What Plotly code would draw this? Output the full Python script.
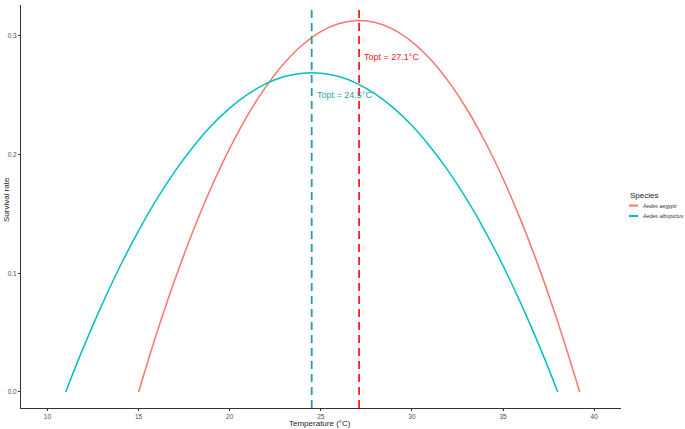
import plotly.graph_objects as go

# Temperatures (°C) and survival rates
temp_aegypti = [15, 16, 17, 18, 19, 20, 21, 22, 23, 24, 25, 26, 27, 28, 29, 30,
                31, 32, 33, 34, 35, 36, 37, 38, 39, 39.2]
surv_aegypti = [0.0, 0.0496, 0.0949, 0.136, 0.1727, 0.2052, 0.2335, 0.2574, 0.2771,
                0.2925, 0.3036, 0.3104, 0.313, 0.3113, 0.3053, 0.295, 0.2805, 0.2617,
                0.2386, 0.2112, 0.1796, 0.1437, 0.1035, 0.059, 0.0103, 0.0]

temp_albopictus = [11, 12, 13, 14, 15, 16, 17, 18, 19, 20, 21, 22, 23, 24, 25, 26,
                   27, 28, 29, 30, 31, 32, 33, 34, 35, 36, 37, 38]
surv_albopictus = [0.0, 0.0384, 0.0738, 0.1063, 0.1358, 0.1624, 0.186, 0.2066, 0.2244,
                   0.2391, 0.2509, 0.2598, 0.2657, 0.2686, 0.2686, 0.2657, 0.2598, 0.2509,
                   0.2391, 0.2244, 0.2066, 0.186, 0.1624, 0.1358, 0.1063, 0.0738, 0.0384, 0.0]

species = ["Aedes aegypti", "Aedes albopictus"]
topt = [27.1, 24.5]
topt_labels = ["Topt = 27.1°C", "Topt = 24.5°C"]
label_y = [0.282, 0.250]

x_ticks = [10, 15, 20, 25, 30, 35, 40]
y_ticks = [0.0, 0.1, 0.2, 0.3]
y_tick_text = ["0.0", "0.1", "0.2", "0.3"]

curve_colors = ["#F8766D", "#00BFC4"]
vline_colors = ["#FF2020", "#2A9D98"]
text_colors = ["#F02020", "#1FA39E"]

FONT = "Liberation Sans, Arial"
W, H = 685, 429
ML, MR, MT, MB = 21, 0, 5, 21
PW, PH = W - ML - MR, H - MT - MB


def px_x(p):
    return (p - ML) / PW


def px_y(p):
    return (H - MB - p) / PH


fig = go.Figure()
fig.add_trace(go.Scatter(x=temp_aegypti, y=surv_aegypti, mode="lines",
                         line=dict(color=curve_colors[0], width=1.5, shape="spline"),
                         name=species[0], showlegend=False))
fig.add_trace(go.Scatter(x=temp_albopictus, y=surv_albopictus, mode="lines",
                         line=dict(color=curve_colors[1], width=1.5, shape="spline"),
                         name=species[1], showlegend=False))

for i in [1, 0]:
    fig.add_vline(x=topt[i], line=dict(color=vline_colors[i], width=1.8, dash="8px,5px"))

for i in range(2):
    fig.add_annotation(x=topt[i], y=label_y[i], text=topt_labels[i], showarrow=False,
                       xanchor="left", yanchor="middle", xshift=3,
                       font=dict(family=FONT, size=9, color=text_colors[i]))

# Legend (drawn in paper space, ggplot-like short keys)
fig.add_annotation(xref="paper", yref="paper", x=px_x(628), y=px_y(195), text="Species",
                   showarrow=False, xanchor="left", yanchor="middle",
                   font=dict(family=FONT, size=8, color="#222"))
for i, ly in enumerate([205.5, 216]):
    fig.add_shape(type="line", xref="paper", yref="paper",
                  x0=px_x(629), x1=px_x(638), y0=px_y(ly), y1=px_y(ly),
                  line=dict(color=curve_colors[i], width=2))
    fig.add_annotation(xref="paper", yref="paper", x=px_x(641), y=px_y(ly),
                       text="<i>" + species[i] + "</i>", showarrow=False,
                       xanchor="left", yanchor="middle", width=43, align="left",
                       borderpad=0,
                       font=dict(family=FONT, size=5.3, color="#333"))

# Axis titles
fig.add_annotation(xref="paper", yref="paper", x=px_x(320), y=px_y(423),
                   text="Temperature (°C)", showarrow=False, xanchor="center", yanchor="middle",
                   font=dict(family=FONT, size=8, color="#222"))
fig.add_annotation(xref="paper", yref="paper", x=px_x(6), y=px_y(200),
                   text="Survival rate", showarrow=False, textangle=-90,
                   xanchor="center", yanchor="middle",
                   font=dict(family=FONT, size=8, color="#222"))

fig.update_layout(
    width=W, height=H,
    margin=dict(l=ML, r=MR, t=MT, b=MB, autoexpand=False),
    paper_bgcolor="white", plot_bgcolor="white",
    font=dict(family=FONT, color="#4D4D4D"),
    showlegend=False,
    xaxis=dict(domain=[0, 600 / PW], range=[8.55, 41.47], tickvals=x_ticks,
               showgrid=False, zeroline=False, automargin=False,
               showline=True, linecolor="#333", linewidth=1,
               ticks="outside", ticklen=2, tickcolor="#333",
               tickfont=dict(size=6.5, color="#4D4D4D")),
    yaxis=dict(range=[-0.0135, 0.326], tickvals=y_ticks, ticktext=y_tick_text,
               showgrid=False, zeroline=False, automargin=False,
               showline=True, linecolor="#333", linewidth=1,
               ticks="outside", ticklen=2, tickcolor="#333",
               tickfont=dict(size=6.5, color="#4D4D4D")),
)

fig.write_html(
    "out.html",
    config={"displayModeBar": False},
    post_script=("document.body.style.margin='0px';"
                 "document.body.style.overflow='hidden';"
                 "document.documentElement.style.overflow='hidden';"),
)
